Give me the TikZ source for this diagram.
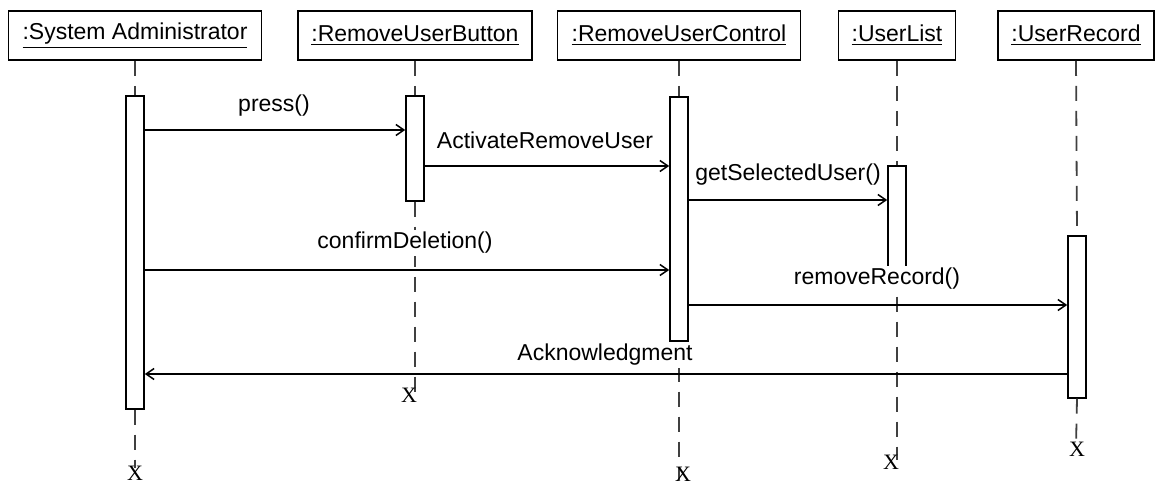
\documentclass[tikz,border=0pt]{standalone}
\usepackage{fontspec}
\setmainfont{Liberation Sans}
\newfontfamily\markfont{Liberation Serif}
\usetikzlibrary{arrows.meta}

\tikzset{
  obj/.style={draw, line width=0.9pt, minimum width=#1, minimum height=24.5pt,
    inner sep=0pt, font=\fontsize{11.5}{13}\selectfont},
  actbar/.style={draw, fill=white, line width=0.8pt, minimum width=9pt,
    minimum height=#1, inner sep=0pt, anchor=north},
  life/.style={draw=black!75, line width=0.9pt, dash pattern=on 7.5pt off 5pt},
  msg/.style={draw, line width=0.75pt, -{Straight Barb[length=4pt,width=5.5pt]}},
  msglabel/.style={fill=white, inner sep=1pt, font=\fontsize{11.5}{13}\selectfont},
  endmark/.style={font=\markfont\fontsize{11}{11}\selectfont, inner sep=0pt},
}

\begin{document}
\begin{tikzpicture}[x=0.5pt, y=-0.5pt]
  \useasboundingbox (0,0) rectangle (1155,485);

  % object heads
  \node[obj=126.5pt] (sa)  at (135,35.5)  {\underline{:System Administrator}};
  \node[obj=117pt]   (rub) at (415,35.5)  {\underline{:RemoveUserButton}};
  \node[obj=121.5pt] (ruc) at (679,35.5)  {\underline{:RemoveUserControl}};
  \node[obj=58.5pt]  (ul)  at (897,35.5)  {\underline{:UserList}};
  \node[obj=78pt]    (ur)  at (1076,35.5) {\underline{:UserRecord}};

  % lifeline end points
  \coordinate (e1) at (135,468);
  \coordinate (e2) at (415,392);
  \coordinate (e3) at (679,480);
  \coordinate (e4) at (897,460);
  \coordinate (e5) at (1076,446);

  % activation bar tops
  \path (135,95)  coordinate (b1top);
  \path (415,95)  coordinate (b2top);
  \path (679,96)  coordinate (b3top);
  \path (897,165) coordinate (b4top);
  \path (1077,235) coordinate (b5top);

  % lifelines
  \draw[life] (sa.south)  -- (b1top);
  \draw[life] (rub.south) -- (b2top);
  \draw[life] (ruc.south) -- (b3top);
  \draw[life] (ul.south)  -- (b4top);
  \draw[life] (ur.south)  -- (b5top);

  \node[actbar=156.5pt] (bar1) at (b1top) {};
  \node[actbar=52.5pt]  (bar2) at (b2top) {};
  \node[actbar=122pt]   (bar3) at (b3top) {};
  \node[actbar=52.5pt]  (bar4) at (b4top) {};
  \node[actbar=81pt]    (bar5) at (b5top) {};

  \draw[life] (bar1.south) -- (e1);
  \draw[life] (bar2.south) -- (e2);
  \draw[life] (bar3.south) -- (e3);
  \draw[life] (bar4.south) -- (e4);
  \draw[life] (bar5.south) -- (e5);

  % messages
  \draw[msg] (bar1.east |- 0,130) -- (bar2.west |- 0,130);
  \draw[msg] (bar2.east |- 0,166) -- (bar3.west |- 0,166);
  \draw[msg] (bar3.east |- 0,200) -- (bar4.west |- 0,200);
  \draw[msg] (bar1.east |- 0,270) -- (bar3.west |- 0,270);
  \draw[msg] (bar3.east |- 0,305) -- (bar5.west |- 0,305);
  \draw[msg] (bar5.west |- 0,374) -- (bar1.east |- 0,374);

  % message labels
  \node[msglabel] (l1) at (274,106) {press()};
  \node[msglabel] (l2) at (545,140) {ActivateRemoveUser};
  \node[msglabel] (l3) at (788,175) {getSelectedUser()};
  \node[msglabel] (l4) at (405,243) {confirmDeletion()};
  \node[msglabel] (l5) at (877,279) {removeRecord()};
  \node[msglabel] (l6) at (605,355) {Acknowledgment};

  % destruction marks
  \node[endmark] (x1) at (135,473) {X};
  \node[endmark] (x2) at (409,395) {X};
  \node[endmark] (x3) at (683,474) {X};
  \node[endmark] (x4) at (891,462) {X};
  \node[endmark] (x5) at (1077,449) {X};
\end{tikzpicture}
\end{document}
